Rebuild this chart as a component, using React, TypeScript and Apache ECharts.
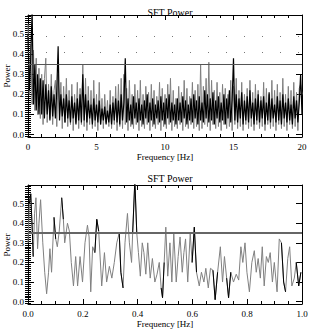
import React, { useEffect, useRef } from "react";
import * as echarts from "echarts";

// ---------- top panel (0–20 Hz), sampled every 0.1 Hz ----------
const topStep = 0.1;
const topGray = [
  0.55,0.2,0.45,0.15,0.42,0.12,0.38,0.1,0.33,0.08,
  0.3,0.05,0.28,0.38,0.06,0.25,0.08,0.3,0.05,0.22,
  0.27,0.04,0.3,0.1,0.26,0.03,0.24,0.06,0.28,0.04,
  0.22,0.05,0.25,0.02,0.2,0.06,0.26,0.03,0.23,0.05,
  0.35,0.04,0.28,0.02,0.24,0.05,0.22,0.03,0.27,0.04,
  0.2,0.02,0.26,0.05,0.18,0.03,0.2,0.06,0.17,0.04,
  0.22,0.03,0.19,0.05,0.24,0.02,0.25,0.04,0.28,0.03,
  0.3,0.05,0.23,0.02,0.27,0.04,0.2,0.03,0.25,0.05,
  0.22,0.02,0.27,0.04,0.2,0.03,0.24,0.05,0.21,0.02,
  0.25,0.04,0.22,0.03,0.19,0.05,0.26,0.02,0.23,0.04,
  0.2,0.03,0.25,0.05,0.28,0.02,0.22,0.04,0.18,0.03,
  0.24,0.05,0.21,0.02,0.27,0.04,0.23,0.03,0.19,0.05,
  0.26,0.03,0.22,0.04,0.25,0.02,0.35,0.03,0.24,0.05,
  0.28,0.04,0.36,0.02,0.27,0.05,0.22,0.03,0.26,0.04,
  0.21,0.02,0.25,0.05,0.23,0.03,0.2,0.04,0.27,0.02,
  0.24,0.05,0.28,0.03,0.22,0.04,0.26,0.02,0.2,0.05,
  0.23,0.03,0.27,0.04,0.21,0.02,0.25,0.05,0.22,0.03,
  0.19,0.04,0.26,0.02,0.23,0.05,0.2,0.03,0.27,0.04,
  0.22,0.02,0.25,0.05,0.21,0.03,0.28,0.04,0.2,0.02,
  0.24,0.05,0.22,0.03,0.26,0.04,0.21,0.02,0.23,0.25,
  0.2,
];
const topBlack = [
  0.5,0.22,0.38,0.62,0.15,0.35,0.12,0.3,0.1,0.28,
  0.1,0.27,0.08,0.25,0.1,0.22,0.07,0.24,0.09,0.2,
  0.08,0.22,0.44,0.07,0.2,0.09,0.18,0.06,0.2,0.08,
  0.17,0.06,0.19,0.08,0.16,0.05,0.18,0.07,0.2,0.06,
  0.3,0.07,0.2,0.06,0.17,0.08,0.15,0.05,0.18,0.07,
  0.15,0.06,0.17,0.05,0.13,0.07,0.14,0.05,0.12,0.06,
  0.15,0.05,0.16,0.07,0.18,0.06,0.17,0.05,0.2,0.07,
  0.16,0.38,0.06,0.18,0.07,0.15,0.05,0.19,0.08,0.16,
  0.06,0.18,0.07,0.15,0.05,0.17,0.08,0.2,0.06,0.16,
  0.07,0.18,0.05,0.15,0.08,0.17,0.06,0.19,0.07,0.16,
  0.05,0.18,0.08,0.2,0.06,0.16,0.07,0.15,0.05,0.18,
  0.07,0.16,0.06,0.19,0.08,0.17,0.05,0.15,0.07,0.18,
  0.06,0.2,0.08,0.17,0.05,0.19,0.07,0.16,0.06,0.22,
  0.08,0.2,0.06,0.18,0.07,0.21,0.05,0.17,0.08,0.19,
  0.06,0.16,0.07,0.2,0.05,0.18,0.08,0.22,0.06,0.17,
  0.38,0.07,0.2,0.06,0.18,0.08,0.21,0.05,0.17,0.07,
  0.19,0.06,0.22,0.08,0.16,0.05,0.18,0.07,0.2,0.06,
  0.17,0.08,0.19,0.05,0.16,0.07,0.21,0.06,0.18,0.08,
  0.15,0.06,0.19,0.07,0.17,0.05,0.2,0.08,0.16,0.06,
  0.18,0.07,0.15,0.05,0.19,0.08,0.17,0.06,0.16,0.3,
  0.1,
];
const topThreshold = 0.35;
const topDotted = [0.415, 0.49];

// ---------- bottom panel (0–1 Hz) ----------
const botFreq = [
  0,0.005,0.01,0.016,0.019,0.024,0.029,0.035,0.04,0.046,
  0.054,0.061,0.068,0.075,0.08,0.086,0.095,0.101,0.107,0.114,
  0.123,0.129,0.134,0.144,0.151,0.158,0.166,0.174,0.181,0.19,
  0.199,0.208,0.217,0.223,0.229,0.236,0.244,0.251,0.258,0.269,
  0.279,0.287,0.297,0.306,0.315,0.324,0.333,0.339,0.347,0.354,
  0.363,0.37,0.378,0.382,0.39,0.397,0.403,0.41,0.417,0.423,
  0.43,0.437,0.446,0.454,0.463,0.471,0.479,0.486,0.491,0.497,
  0.503,0.51,0.518,0.525,0.532,0.541,0.548,0.555,0.563,0.569,
  0.575,0.583,0.592,0.599,0.607,0.615,0.625,0.633,0.642,0.649,
  0.658,0.666,0.675,0.683,0.692,0.702,0.71,0.717,0.725,0.732,
  0.74,0.75,0.76,0.769,0.777,0.784,0.792,0.799,0.808,0.817,
  0.826,0.833,0.84,0.848,0.855,0.862,0.87,0.877,0.884,0.892,
  0.899,0.909,0.917,0.925,0.933,0.94,0.948,0.955,0.963,0.972,
  0.979,0.988,0.996,
];
const botPower = [
  0.3,0.5,0.55,0.35,0.23,0.45,0.53,0.27,0.4,0.52,
  0.3,0.15,0.04,0.15,0.27,0.15,0.43,0.32,0.28,0.36,
  0.53,0.42,0.3,0.4,0.36,0.2,0.08,0.23,0.08,0.23,
  0.1,0.3,0.39,0.33,0.05,0.28,0.25,0.42,0.36,0.08,
  0.25,0.1,0.18,0.12,0.2,0.3,0.35,0.15,0.07,0.3,
  0.45,0.3,0.2,0.35,0.62,0.35,0.25,0.13,0.3,0.25,
  0.14,0.3,0.12,0.22,0.1,0.14,0.2,0.07,0.02,0.2,
  0.38,0.13,0.3,0.1,0.35,0.1,0.23,0.33,0.15,0.25,
  0.32,0.1,0.35,0.2,0.38,0.15,0.08,0.15,0.1,0.17,
  0.07,0.17,0.16,0.01,0.15,0.28,0.1,0.23,0.12,0.02,
  0.15,0.1,0.14,0.11,0.28,0.2,0.3,0.15,0.05,0.2,
  0.26,0.15,0.22,0.12,0.28,0.08,0.23,0.2,0.25,0.1,
  0.2,0.05,0.32,0.3,0.1,0.05,0.22,0.28,0.08,0.12,
  0.2,0.08,0.15,
];
// frequency ranges where the second (black) trace shows through
const botBlackRanges = [
  [0.005, 0.019], [0.09, 0.101], [0.12, 0.129], [0.244, 0.258],
  [0.333, 0.347], [0.382, 0.397], [0.486, 0.497], [0.599, 0.615],
  [0.675, 0.692], [0.725, 0.74], [0.925, 0.94], [0.979, 0.996],
];
const botThreshold = 0.35;

const yLabels = [0, 0.1, 0.2, 0.3, 0.4, 0.5];

export default function App() {
  const ref = useRef<HTMLDivElement>(null);
  useEffect(() => {
    if (!ref.current) return;
    const chart = echarts.init(ref.current, null, { renderer: "svg" });
    const font = "Liberation Serif, serif";
    const minorY: number[] = [];
    for (let i = -1; i <= 59; i++) minorY.push(i / 100);

    const topG = topGray.map((v, i) => [+(i * topStep).toFixed(2), v]);
    const topB = topBlack.map((v, i) => [+(i * topStep).toFixed(2), v]);
    const botG = botFreq.map((f, i) => [f, botPower[i]]);
    const botB = botFreq.map((f, i) =>
      botBlackRanges.some(([a, b]) => f >= a && f <= b) ? [f, botPower[i]] : [f, null]
    );

    const grids = [
      { left: 28, right: 7, top: 15, height: 122, outerBoundsMode: "none", containLabel: false },
      { left: 28, right: 7, top: 185, height: 119, outerBoundsMode: "none", containLabel: false },
    ];
    const xAxis: any[] = [];
    const yAxis: any[] = [];
    const xCfg = [
      { min: 0, max: 20, interval: 5, minor: 5, fmt: (v: number) => String(v) },
      { min: 0, max: 1, interval: 0.2, minor: 4, fmt: (v: number) => v.toFixed(1) },
    ];
    [0, 1].forEach((g) => {
      const c = xCfg[g];
      ["bottom", "top"].forEach((pos) => {
        xAxis.push({
          type: "value",
          gridIndex: g,
          position: pos,
          min: c.min,
          max: c.max,
          interval: c.interval,
          axisLine: { show: true, onZero: false, lineStyle: { color: "#000", width: 1 } },
          axisTick: { show: true, inside: true, length: 5, lineStyle: { color: "#000" } },
          minorTick: { show: true, splitNumber: c.minor, length: 3, lineStyle: { color: "#000" } },
          splitLine: { show: false },
          axisLabel: {
            show: pos === "bottom",
            formatter: c.fmt,
            color: "#000",
            fontFamily: font,
            fontSize: 9,
            margin: 5,
          },
          name: pos === "bottom" ? "Frequency [Hz]" : "",
          nameLocation: "middle",
          nameGap: 15,
          nameTextStyle: { color: "#000", fontFamily: font, fontSize: 9 },
        });
      });
      ["left", "right"].forEach((pos) => {
        yAxis.push({
          type: "value",
          gridIndex: g,
          position: pos,
          min: -0.012,
          max: 0.595,
          axisLine: { show: true, onZero: false, lineStyle: { color: "#000", width: 1 } },
          axisTick: { show: true, inside: true, length: 6, customValues: yLabels, lineStyle: { color: "#000" } },
          splitLine: { show: false },
          axisLabel: {
            show: pos === "left",
            customValues: yLabels,
            formatter: (v: number) => v.toFixed(1),
            color: "#000",
            fontFamily: font,
            fontSize: 9,
            margin: 4,
          },
        });
        yAxis.push({
          type: "value",
          gridIndex: g,
          position: pos,
          min: -0.012,
          max: 0.595,
          axisLine: { show: false },
          axisTick: { show: true, inside: true, length: 3, customValues: minorY, lineStyle: { color: "#000" } },
          splitLine: { show: false },
          axisLabel: { show: false },
        });
      });
    });

    const hline = (y: number, color: string, width: number, type: any = "solid") => ({
      yAxis: y,
      lineStyle: { color, width, type },
    });
    const yName = (cy: number) => ({
      type: "text",
      x: 7,
      y: cy,
      rotation: Math.PI / 2,
      style: {
        text: "Power",
        fill: "#000",
        font: `9px ${font}`,
        align: "center",
        verticalAlign: "middle",
      },
    });

    chart.setOption({
      animation: false,
      backgroundColor: "#fff",
      textStyle: { fontFamily: font },
      title: [
        {
          text: "SFT Power",
          left: 165,
          top: 2,
          textAlign: "center",
          textStyle: { fontFamily: font, fontSize: 10, fontWeight: "normal", color: "#000" },
        },
        {
          text: "SFT Power",
          left: 165,
          top: 168,
          textAlign: "center",
          textStyle: { fontFamily: font, fontSize: 10, fontWeight: "normal", color: "#000" },
        },
      ],
      graphic: [yName(76), yName(245)],
      grid: grids,
      xAxis,
      yAxis,
      series: [
        {
          type: "line",
          xAxisIndex: 0,
          yAxisIndex: 0,
          data: topG,
          showSymbol: false,
          lineStyle: { color: "#808080", width: 1 },
          clip: true,
        },
        {
          type: "line",
          xAxisIndex: 0,
          yAxisIndex: 0,
          data: topB,
          showSymbol: false,
          lineStyle: { color: "#000", width: 1.2 },
          clip: true,
          markLine: {
            silent: true,
            symbol: "none",
            label: { show: false },
            data: [
              hline(topThreshold, "#555", 1),
              ...topDotted.map((v) => hline(v, "#777", 1, [1, 17])),
            ],
          },
        },
        {
          type: "line",
          xAxisIndex: 2,
          yAxisIndex: 4,
          data: botG,
          showSymbol: false,
          lineStyle: { color: "#808080", width: 1 },
          clip: true,
        },
        {
          type: "line",
          xAxisIndex: 2,
          yAxisIndex: 4,
          data: botB,
          showSymbol: false,
          connectNulls: false,
          lineStyle: { color: "#000", width: 1 },
          clip: true,
          markLine: {
            silent: true,
            symbol: "none",
            label: { show: false },
            data: [hline(botThreshold, "#666", 2)],
          },
        },
      ],
    });
    return () => chart.dispose();
  }, []);
  return (
    <div
      ref={ref}
      style={{ position: "fixed", left: 0, top: 0, width: 309, height: 332, background: "#fff" }}
    />
  );
}
